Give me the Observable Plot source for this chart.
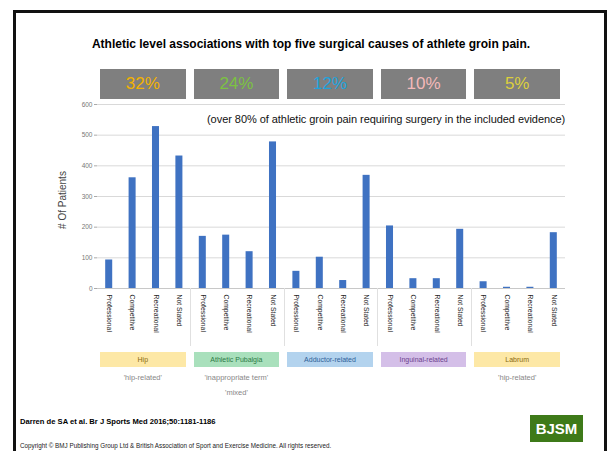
<!DOCTYPE html>
<html>
<head>
<meta charset="utf-8">
<script src="https://cdn.jsdelivr.net/npm/d3@7"></script>
<script src="https://cdn.jsdelivr.net/npm/@observablehq/plot@0.6"></script>
<style>
  html, body { margin: 0; padding: 0; background: #fff; }
  body { width: 610px; height: 451px; overflow: hidden; position: relative; font-family: "Liberation Sans", Arial, sans-serif; }
  .abs { position: absolute; white-space: nowrap; }
  #chart { position: absolute; left: 0; top: 0; }
</style>
</head>
<body>
<div id="frame" class="abs" style="left:13px;top:10px;width:588px;height:460px;border:3px solid #111;border-bottom:none;"></div>
<div id="chart"></div>
<script>
const groups = ["Hip", "Athletic Pubalgia", "Adductor-related", "Inguinal-related", "Labrum"];
const levels = ["Professional", "Competitive", "Recreational", "Not Stated"];
const hip = [93, 361, 528, 432];
const pubalgia = [170, 174, 120, 478];
const adductor = [56, 102, 26, 369];
const inguinal = [204, 32, 32, 193];
const labrum = [22, 4, 4, 182];
const percentages = ["32%", "24%", "12%", "10%", "5%"];
const percentColors = ["#f2b200", "#7cc242", "#1ea3dd", "#f4b9b9", "#dccf3c"];
const bandFill = ["#fde8a6", "#a9e0bc", "#b3d3ee", "#d4bfe8", "#fde8a6"];
const bandText = ["#8a6a10", "#2c7a45", "#2f5f98", "#6c3f8e", "#8a6a10"];
const notes = [["'hip-related'"], ["'inappropriate term'", "'mixed'"], [], [], ["'hip-related'"]];
const yTicks = [0, 100, 200, 300, 400, 500, 600];
const title = "Athletic level associations with top five surgical causes of athlete groin pain.";
const annotation = "(over 80% of athletic groin pain requiring surgery in the included evidence)";
const citation = "Darren de SA et al. Br J Sports Med 2016;50:1181-1186";
const copyright = "Copyright \u00a9 BMJ Publishing Group Ltd & British Association of Sport and Exercise Medicine. All rights reserved.";

const series = [hip, pubalgia, adductor, inguinal, labrum];
const data = [];
groups.forEach((g, gi) => levels.forEach((l, li) => data.push({group: g, level: l, key: g + "|" + l, value: series[gi][li]})));
const keys = data.map(d => d.key);

const chart = Plot.plot({
  width: 610,
  height: 451,
  marginLeft: 97,
  marginRight: 45,
  marginTop: 104,
  marginBottom: 163,
  style: {fontFamily: "Liberation Sans, Arial, sans-serif", background: "transparent"},
  x: {domain: keys, paddingInner: 0.7, paddingOuter: 0.35, align: 0.5, round: false},
  y: {domain: [0, 600], ticks: yTicks},
  marks: [
    Plot.gridY(yTicks, {stroke: "#d9d9d9", strokeOpacity: 1}),
    Plot.axisY(yTicks, {tickSize: 3, tickPadding: 2, stroke: "#aaa", fill: "#777", fontSize: 6.5, label: null}),
    Plot.ruleY([0], {stroke: "#c8c8c8"}),
    Plot.barY(data, {x: "key", y: "value", fill: "#3f72c2"}),
    Plot.axisX({tickSize: 0, tickPadding: 6, tickRotate: 90, textAnchor: "start", fontSize: 6.8, fill: "#222",
      tickFormat: k => k.split("|")[1], label: null})
  ]
});
document.getElementById("chart").appendChild(chart);

const xs = chart.scale("x");
const ys = chart.scale("y");
const step = xs.step;
const body = document.body;
function add(html, style) {
  const d = document.createElement("div");
  d.className = "abs";
  d.innerHTML = html;
  Object.assign(d.style, style);
  body.appendChild(d);
  return d;
}

// title
add(title, {left: "0px", width: "622px", textAlign: "center", top: "37px", fontSize: "12px", fontWeight: "bold", color: "#000"});

// y label
add("# Of Patients", {left: "62px", top: "200px", fontSize: "10px", color: "#444", transform: "translate(-50%,-50%) rotate(-90deg)"});

// annotation
add(annotation, {left: "207px", top: "113px", fontSize: "11px", color: "#111", letterSpacing: "-0.05px"});

const y0 = ys.apply(0);
groups.forEach((g, gi) => {
  const gStart = xs.apply(g + "|" + levels[0]) - (step - xs.bandwidth) / 2;
  const gEnd = gStart + step * levels.length;
  const left = gStart + 3, w = gEnd - gStart - 8, cx = (gStart + gEnd) / 2 - 1;
  // percentage box
  add(percentages[gi], {left: left + "px", top: "69px", width: w + "px", height: "30px", background: "#7f7f7f",
    color: percentColors[gi], fontSize: "17px", lineHeight: "30px", textAlign: "center"});
  // group band
  add(g, {left: left + "px", top: "352px", width: w + "px", height: "15px", background: bandFill[gi],
    color: bandText[gi], fontSize: "7px", lineHeight: "15px", textAlign: "center"});
  // notes
  notes[gi].forEach((n, ni) => add(n, {left: cx + "px", top: (373 + ni * 15) + "px", transform: "translateX(-50%)", fontSize: "7.5px", color: "#888"}));
  // separators
  if (gi < groups.length - 1) add("", {left: (gEnd - 0.5) + "px", top: y0 + "px", width: "1px", height: "58px", background: "#e0e0e0"});
});

// footer
add(citation, {left: "20px", top: "417px", fontSize: "7.6px", fontWeight: "bold", color: "#000"});
add(copyright, {left: "20px", top: "442px", fontSize: "6.3px", color: "#222"});
add("BJSM", {left: "530px", top: "415px", width: "53px", height: "27px", background: "#3e7a19", color: "#fff",
  fontSize: "15px", fontWeight: "bold", lineHeight: "27px", textAlign: "center"});
</script>
</body>
</html>
